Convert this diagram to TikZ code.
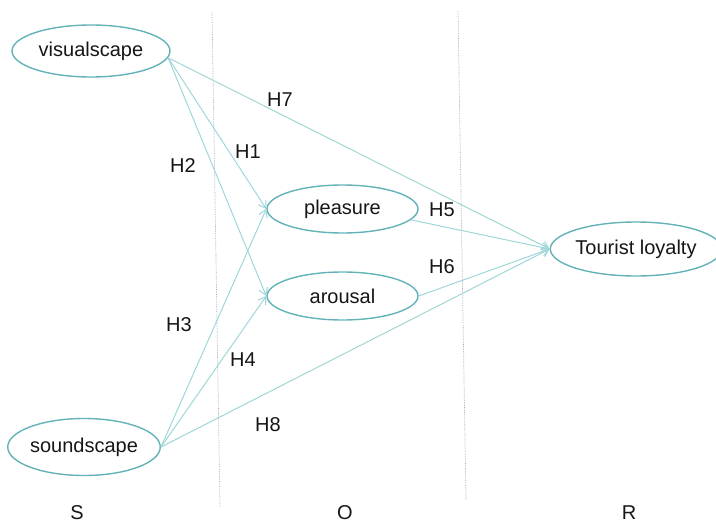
\documentclass[tikz,border=0pt]{standalone}
\usepackage{fontspec}
\setmainfont{Liberation Sans}
\usetikzlibrary{shapes.geometric,arrows.meta}
\definecolor{linec}{RGB}{160,214,218}
\definecolor{ellc}{RGB}{98,178,184}
\definecolor{txtc}{RGB}{22,22,22}
\definecolor{sepc}{RGB}{165,170,172}
\tikzset{
  construct/.style={ellipse, draw=ellc, line width=1.4pt, inner sep=0pt, text=txtc,
     font=\fontsize{20}{22}\selectfont},
  hyp/.style={text=txtc, font=\fontsize{20}{22}\selectfont, inner sep=0pt},
  path/.style={draw=linec, line width=1pt, -{Straight Barb[length=7pt,width=9pt]}},
  sep/.style={draw=sepc, line width=0.7pt, densely dotted}
}
\begin{document}
\begin{tikzpicture}[x=1pt,y=-1pt]
\useasboundingbox (0,0) rectangle (716,525);
% separators
\coordinate (s1t) at (212,12);
\coordinate (s1b) at (220,507);
\coordinate (s2t) at (458,11);
\coordinate (s2b) at (466,500);
\draw[sep] (s1t) -- (s1b);
\draw[sep] (s2t) -- (s2b);
% constructs
\node[construct, minimum width=158pt, minimum height=52pt] (vis) at (91,51) {visualscape};
\node[construct, minimum width=145pt, minimum height=57pt] (snd) at (84,447) {soundscape};
\node[construct, minimum width=151pt, minimum height=48pt] (ple) at (342.5,209) {pleasure};
\node[construct, minimum width=151pt, minimum height=48pt] (aro) at (342.5,296) {arousal};
\node[construct, minimum width=158pt, minimum height=54pt] (loy) at (636,249) {Tourist loyalty};
% paths
\draw[path] (vis.-5) -- (ple.west);
\draw[path] (vis.-5) -- (aro.west);
\draw[path] (vis.-5) -- (loy.west);
\draw[path] (snd.east) -- (ple.west);
\draw[path] (snd.east) -- (aro.west);
\draw[path] (snd.east) -- (loy.west);
\draw[path] (ple.-9) -- (loy.west);
\draw[path] (aro.east) -- (loy.west);
% hypothesis labels
\node[hyp] (h7) at (280,100) {H7};
\node[hyp] (h1) at (248,152) {H1};
\node[hyp] (h2) at (183,166) {H2};
\node[hyp] (h5) at (442,210) {H5};
\node[hyp] (h6) at (442,267) {H6};
\node[hyp] (h3) at (179,325) {H3};
\node[hyp] (h4) at (243,360) {H4};
\node[hyp] (h8) at (268,425) {H8};
% stage labels
\node[hyp] (S) at (77,513) {S};
\node[hyp] (O) at (345,513) {O};
\node[hyp] (R) at (629,513) {R};
\end{tikzpicture}
\end{document}
